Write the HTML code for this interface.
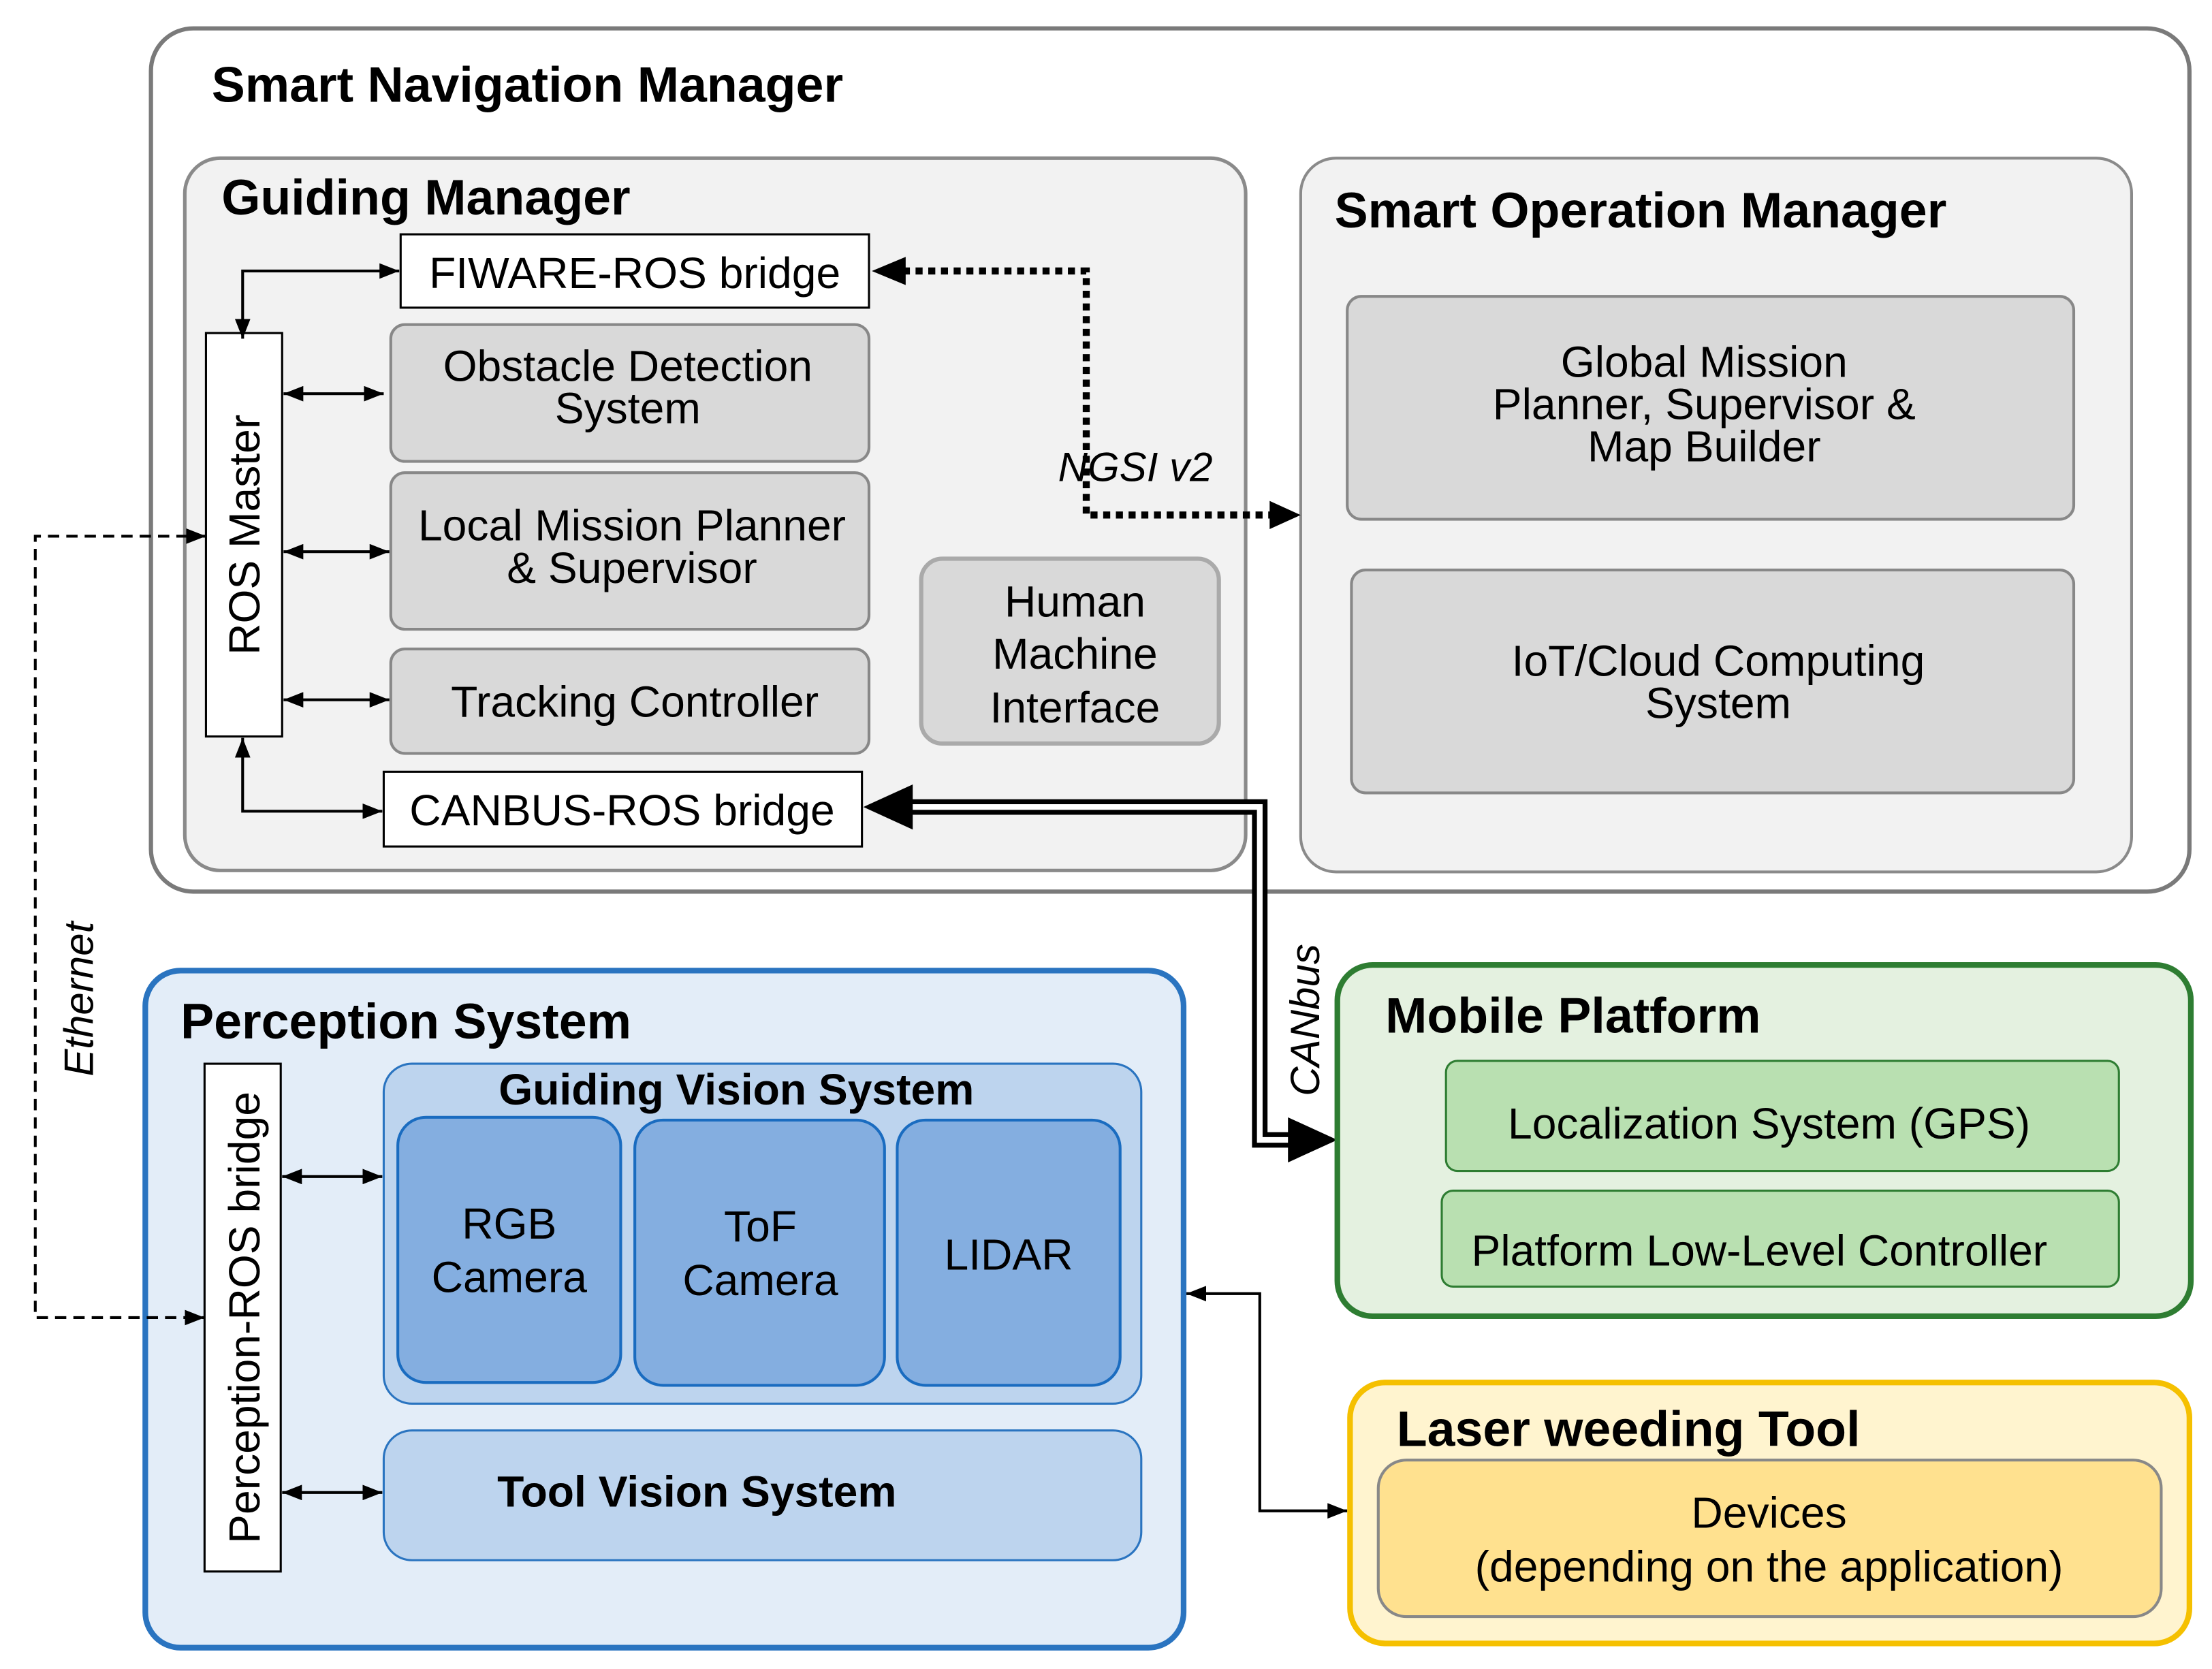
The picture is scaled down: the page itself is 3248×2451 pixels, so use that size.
<!DOCTYPE html>
<html><head><meta charset="utf-8"><style>html,body{margin:0;padding:0;background:#fff}svg{display:block}</style></head>
<body>
<svg xmlns="http://www.w3.org/2000/svg" width="3248" height="2451" viewBox="0 0 1568 1183" font-family="Liberation Sans, Arial, sans-serif">
<defs>
<marker id="a" viewBox="0 0 10 10" refX="10" refY="5" markerWidth="14" markerHeight="11" markerUnits="userSpaceOnUse" orient="auto-start-reverse" preserveAspectRatio="none"><path d="M0,0L10,5L0,10z" fill="#000"/></marker>
</defs>
<rect x="107" y="20" width="1445" height="612" rx="30" fill="#fff" stroke="#7a7a7a" stroke-width="3"/>
<text x="150" y="72" font-size="35.5" font-weight="bold">Smart Navigation Manager</text>
<rect x="131" y="112" width="752" height="505" rx="25" fill="#f2f2f2" stroke="#8a8a8a" stroke-width="2.5"/>
<text x="157" y="152" font-size="35.5" font-weight="bold">Guiding Manager</text>
<rect x="922" y="112" width="589" height="506" rx="25" fill="#f2f2f2" stroke="#8a8a8a" stroke-width="2"/>
<text x="946" y="161" font-size="35.5" font-weight="bold">Smart Operation Manager</text>
<g font-size="31" text-anchor="middle">
<rect x="955" y="210" width="515" height="158" rx="10" fill="#d9d9d9" stroke="#888" stroke-width="2"/>
<text x="1208" y="267">Global Mission</text><text x="1208" y="297">Planner, Supervisor &amp;</text><text x="1208" y="327">Map Builder</text>
<rect x="958" y="404" width="512" height="158" rx="10" fill="#d9d9d9" stroke="#888" stroke-width="2"/>
<text x="1218" y="479">IoT/Cloud Computing</text><text x="1218" y="509">System</text>
<rect x="284" y="166" width="332" height="52" fill="#fff" stroke="#000" stroke-width="1.5"/>
<text x="450" y="204">FIWARE-ROS bridge</text>
<rect x="146" y="236" width="54" height="286" fill="#fff" stroke="#000" stroke-width="1.5"/>
<text transform="translate(184,379) rotate(-90)">ROS Master</text>
<rect x="277" y="230" width="339" height="97" rx="10" fill="#d9d9d9" stroke="#888" stroke-width="2"/>
<text x="445" y="270">Obstacle Detection</text><text x="445" y="300">System</text>
<rect x="277" y="335" width="339" height="111" rx="10" fill="#d9d9d9" stroke="#888" stroke-width="2"/>
<text x="448" y="383">Local Mission Planner</text><text x="448" y="413">&amp; Supervisor</text>
<rect x="277" y="460" width="339" height="74" rx="10" fill="#d9d9d9" stroke="#888" stroke-width="2"/>
<text x="450" y="508">Tracking Controller</text>
<rect x="272" y="547" width="339" height="53" fill="#fff" stroke="#000" stroke-width="1.5"/>
<text x="441" y="585">CANBUS-ROS bridge</text>
<rect x="653" y="396" width="211" height="131" rx="15" fill="#d9d9d9" stroke="#aaa" stroke-width="3"/>
<text x="762" y="437">Human</text><text x="762" y="474">Machine</text><text x="762" y="512">Interface</text>
</g>
<g stroke="#000" stroke-width="2" fill="none">
<path d="M283,192H172V240" marker-start="url(#a)" marker-end="url(#a)"/>
<path d="M201,279H272" marker-start="url(#a)" marker-end="url(#a)"/>
<path d="M201,391H276" marker-start="url(#a)" marker-end="url(#a)"/>
<path d="M201,496H276" marker-start="url(#a)" marker-end="url(#a)"/>
<path d="M172,523V575H271" marker-start="url(#a)" marker-end="url(#a)"/>
</g>
<path d="M640,192H770V365H905" stroke="#000" stroke-width="5" stroke-dasharray="5,4" fill="none"/>
<path d="M618,192L642,182V202z" fill="#000"/>
<path d="M922,365L900,355V375z" fill="#000"/>
<text x="750" y="341" font-size="29" font-style="italic">NGSI v2</text>
<path d="M640,572H893V808H925" stroke="#000" stroke-width="11" fill="none"/>
<path d="M640,572H893V808H925" stroke="#fff" stroke-width="4" fill="none"/>
<path d="M612,572L647,556V588z" fill="#000"/>
<path d="M948,808L913,792V824z" fill="#000"/>
<text transform="translate(935,777) rotate(-90)" font-size="29" font-style="italic">CANbus</text>
<rect x="103" y="688" width="736" height="480" rx="25" fill="#e3edf8" stroke="#2a74c0" stroke-width="4"/>
<text x="128" y="736" font-size="35.5" font-weight="bold">Perception System</text>
<path d="M146,380H25V934H145" stroke="#000" stroke-width="2" stroke-dasharray="8,5" fill="none" marker-end="url(#a)"/>
<path d="M146,380L132,374.5V385.5z" fill="#000"/>
<text transform="translate(66,763) rotate(-90)" font-size="29" font-style="italic">Ethernet</text>
<rect x="145" y="754" width="54" height="360" fill="#fff" stroke="#000" stroke-width="1.5"/>
<text transform="translate(184,934) rotate(-90)" font-size="31" text-anchor="middle">Perception-ROS bridge</text>
<rect x="272" y="754" width="537" height="241" rx="20" fill="#bdd4ee" stroke="#2a74c0" stroke-width="1.5"/>
<text x="522" y="783" font-size="31" font-weight="bold" text-anchor="middle">Guiding Vision System</text>
<g font-size="31" text-anchor="middle">
<rect x="282" y="792" width="158" height="188" rx="20" fill="#84aee0" stroke="#1a6cc0" stroke-width="2"/>
<text x="361" y="878">RGB</text><text x="361" y="916">Camera</text>
<rect x="450" y="794" width="177" height="188" rx="20" fill="#84aee0" stroke="#1a6cc0" stroke-width="2"/>
<text x="539" y="880">ToF</text><text x="539" y="918">Camera</text>
<rect x="636" y="794" width="158" height="188" rx="20" fill="#84aee0" stroke="#1a6cc0" stroke-width="2"/>
<text x="715" y="900">LIDAR</text>
</g>
<rect x="272" y="1014" width="537" height="92" rx="20" fill="#bdd4ee" stroke="#2a74c0" stroke-width="1.5"/>
<text x="494" y="1068" font-size="31" font-weight="bold" text-anchor="middle">Tool Vision System</text>
<g stroke="#000" stroke-width="2" fill="none">
<path d="M200,834H271" marker-start="url(#a)" marker-end="url(#a)"/>
<path d="M200,1058H271" marker-start="url(#a)" marker-end="url(#a)"/>
<path d="M841,917H893V1071H955" marker-start="url(#a)" marker-end="url(#a)"/>
</g>
<rect x="948" y="684" width="605" height="249" rx="25" fill="#e4f1e0" stroke="#2e7d32" stroke-width="4"/>
<text x="982" y="732" font-size="35.5" font-weight="bold">Mobile Platform</text>
<rect x="1025" y="752" width="477" height="78" rx="8" fill="#b9e0b1" stroke="#2e7d32" stroke-width="1.5"/>
<text x="1254" y="807" font-size="31" text-anchor="middle">Localization System (GPS)</text>
<rect x="1022" y="844" width="480" height="68" rx="8" fill="#b9e0b1" stroke="#2e7d32" stroke-width="1.5"/>
<text x="1043" y="897" font-size="31">Platform Low-Level Controller</text>
<rect x="957" y="980" width="595" height="185" rx="25" fill="#fff4cf" stroke="#f5c000" stroke-width="4"/>
<text x="990" y="1025" font-size="35.5" font-weight="bold">Laser weeding Tool</text>
<rect x="977" y="1035" width="555" height="111" rx="20" fill="#ffe18f" stroke="#888" stroke-width="2"/>
<text x="1254" y="1083" font-size="31" text-anchor="middle">Devices</text>
<text x="1254" y="1121" font-size="31" text-anchor="middle">(depending on the application)</text>
</svg>
</body></html>
